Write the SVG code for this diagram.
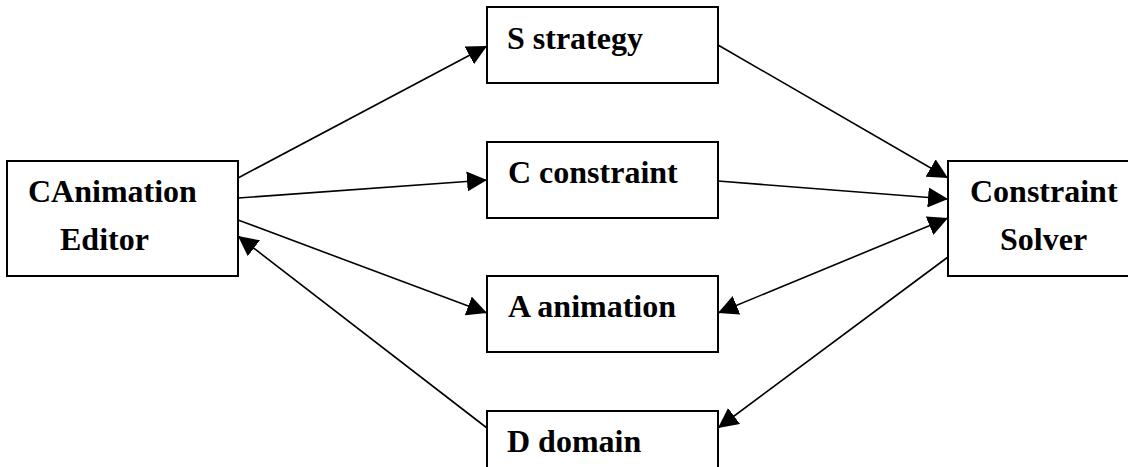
<svg xmlns="http://www.w3.org/2000/svg" width="1128" height="467" viewBox="0 0 1128 467">
<defs>
<style>
.box{fill:#fff;stroke:#000;stroke-width:2}
.lbl{font-family:"Liberation Serif","Times New Roman",serif;font-weight:bold;font-size:32px;fill:#000}
.edge{stroke:#000;stroke-width:1.6;fill:none}
</style>
<marker id="ah" markerUnits="userSpaceOnUse" markerWidth="20" markerHeight="20" refX="20" refY="10" orient="auto-start-reverse" viewBox="0 0 20 20">
<path d="M0,0 L20,10 L0,20 z" fill="#000"/>
</marker>
</defs>
<rect width="1128" height="467" fill="#fff"/>
<g id="editor">
<rect class="box" x="7" y="161" width="231" height="115"/>
<text class="lbl" x="28" y="202">CAnimation</text>
<text class="lbl" x="60" y="250">Editor</text>
</g>
<g id="strategy">
<rect class="box" x="487" y="7" width="231" height="76"/>
<text class="lbl" x="507" y="49">S strategy</text>
</g>
<g id="constraint">
<rect class="box" x="487" y="142" width="231" height="76"/>
<text class="lbl" x="508" y="183">C constraint</text>
</g>
<g id="animation">
<rect class="box" x="487" y="276" width="231" height="76"/>
<text class="lbl" x="508" y="317">A animation</text>
</g>
<g id="domain">
<rect class="box" x="487" y="411" width="231" height="70"/>
<text class="lbl" x="507" y="452">D domain</text>
</g>
<g id="solver">
<rect class="box" x="948" y="161" width="200" height="115"/>
<text class="lbl" x="970" y="202">Constraint</text>
<text class="lbl" x="1000" y="250">Solver</text>
</g>
<g id="connectors">
<line class="edge" x1="238" y1="178" x2="487" y2="46" marker-end="url(#ah)"/>
<line class="edge" x1="238" y1="198" x2="487" y2="180" marker-end="url(#ah)"/>
<line class="edge" x1="238" y1="220" x2="487" y2="313" marker-end="url(#ah)"/>
<line class="edge" x1="487" y1="428" x2="238" y2="236" marker-end="url(#ah)"/>
<line class="edge" x1="718" y1="45" x2="948" y2="178" marker-end="url(#ah)"/>
<line class="edge" x1="718" y1="181" x2="948" y2="199" marker-end="url(#ah)"/>
<line class="edge" x1="718" y1="313" x2="948" y2="218" marker-start="url(#ah)" marker-end="url(#ah)"/>
<line class="edge" x1="948" y1="257" x2="718" y2="428" marker-end="url(#ah)"/>
</g>
</svg>
